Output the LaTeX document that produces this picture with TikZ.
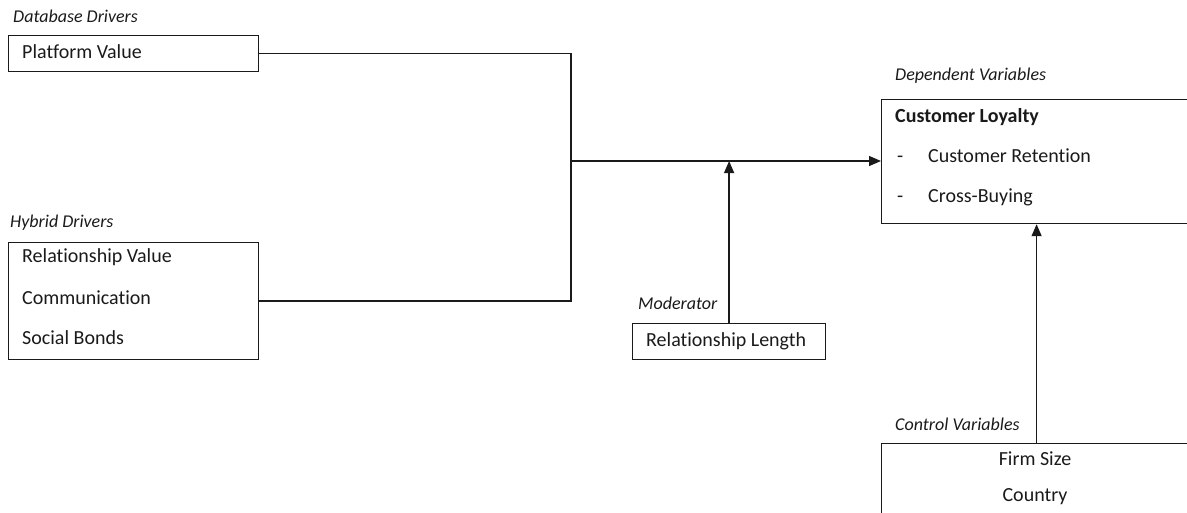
\documentclass[tikz,border=0pt]{standalone}
\usepackage{fontspec}
\setmainfont{Carlito}[Ligatures=CommonOff]
\usetikzlibrary{arrows.meta}
\definecolor{ink}{HTML}{1A1A1A}
\tikzset{
  box/.style={draw=ink, line width=1.2pt, rectangle, inner sep=0pt, anchor=north west},
  txt/.style={inner sep=0pt, anchor=west, text=ink, text height=14pt, text depth=4pt,
    font=\fontsize{20}{24}\selectfont},
  ctxt/.style={txt, anchor=center},
  heading/.style={inner sep=0pt, anchor=west, text=ink, text height=13pt, text depth=4pt,
    font=\fontsize{18}{22}\selectfont\itshape},
  link/.style={draw=ink, line width=1.3pt},
  arr/.style={link, -{Triangle[length=12pt,width=10pt]}}
}
\begin{document}
\begin{tikzpicture}[x=1pt,y=-1pt]
\useasboundingbox (0,0) rectangle (1187,512);
\clip (0,0) rectangle (1187,512);

% Database drivers
\node[heading] (dbcap) at (13,18) {Database Drivers};
\node[box, minimum width=250pt, minimum height=36pt] (pv) at (8,35) {};
\node[txt] (pvt) at (22,53) {Platform Value};

% Hybrid drivers
\node[heading] (hycap) at (10,223) {Hybrid Drivers};
\node[box, minimum width=250pt, minimum height=117pt] (hy) at (8,242) {};
\node[txt] (hy1) at (22,257) {Relationship Value};
\node[txt] (hy2) at (22,299) {Communication};
\node[txt] (hy3) at (22,339) {Social Bonds};

% Moderator
\node[heading] (modcap) at (638,305) {Moderator};
\node[box, minimum width=193pt, minimum height=36pt] (mod) at (632,323) {};
\node[txt] (modt) at (646,341) {Relationship Length};

% Dependent variables
\node[heading] (depcap) at (895,76) {Dependent Variables};
\node[box, minimum width=310pt, minimum height=124pt] (dep) at (881,99) {};
\node[txt, font=\fontsize{20}{24}\selectfont\bfseries] (dep0) at (895,117) {Customer Loyalty};
\node[txt] (dep1a) at (897,157) {-};
\node[txt] (dep1) at (928,157) {Customer Retention};
\node[txt] (dep2a) at (897,197) {-};
\node[txt] (dep2) at (928,197) {Cross-Buying};

% Control variables
\node[heading] (ctlcap) at (895,426) {Control Variables};
\node[box, minimum width=310pt, minimum height=120pt] (ctl) at (881,443) {};
\node[ctxt] (ctl1) at (1035,460) {Firm Size};
\node[ctxt] (ctl2) at (1035,496) {Country};

% Connectors
\coordinate (join) at (571,161);
\draw[link] (pv.east) -| (join);
\draw[link] (hy.east) -| (join);
\draw[arr] (join) -- (join -| dep.west);
\draw[arr] (mod.north) -- (mod.north |- join);
\draw[arr] (ctl.north) -- (ctl.north |- dep.south);
\end{tikzpicture}
\end{document}
